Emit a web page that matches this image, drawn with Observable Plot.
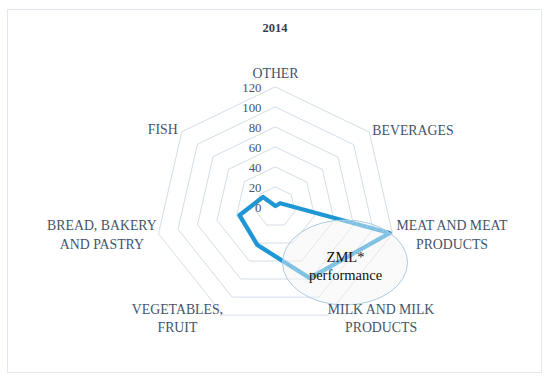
<!DOCTYPE html>
<html>
<head>
<meta charset="utf-8">
<script src="https://cdn.jsdelivr.net/npm/d3@7"></script>
<script src="https://cdn.jsdelivr.net/npm/@observablehq/plot@0.6"></script>
<style>
  html, body { margin: 0; padding: 0; background: #fff; }
  body { width: 550px; height: 381px; position: relative; overflow: hidden; font-family: "Liberation Serif", serif; }
  #frame { position: absolute; left: 7px; top: 9px; width: 535px; height: 364px; box-sizing: border-box; border: 1.5px solid #e2e8ee; }
  #title { position: absolute; left: 0; width: 550px; top: 21px; text-align: center; font: bold 12.5px "Liberation Serif", serif; color: #333f50; }
  #chart { position: absolute; left: 0; top: 40px; }
  #chart svg { overflow: visible; background: transparent; }
</style>
</head>
<body>
<div id="frame"></div>
<div id="title"></div>
<div id="chart"></div>
<script>
// ---- data ----
const titleText = "2014";
const categories = ["OTHER", "BEVERAGES", "MEAT AND MEAT\nPRODUCTS", "MILK AND MILK\nPRODUCTS", "VEGETABLES,\nFRUIT", "BREAD, BAKERY\nAND PASTRY", "FISH"];
const values = [1, 6, 117, 79, 42, 37, 16];
const ringTicks = [0, 20, 40, 60, 80, 100, 120];
const annotationText = ["ZML*", "performance"];

// ---- layout / style ----
const W = 550, H = 341;
const cx = 275, cy = 166.5; // pixel centre of the radar inside the svg
const maxR = 120;
const labelColor = "#44546a";
const labelFont = "Liberation Serif";
const labelLayout = [
  {anchor: "middle", dx: 0, dy: -15},
  {anchor: "start", dx: 3, dy: -3},
  {anchor: "middle", dx: 59.5, dy: 0},
  {anchor: "middle", dx: 53.5, dy: 2.4},
  {anchor: "middle", dx: -46, dy: 2.4},
  {anchor: "middle", dx: -56.6, dy: 0},
  {anchor: "end", dx: -4, dy: -3.5}
];

document.getElementById("title").textContent = titleText;

const n = categories.length;
const ang = i => 2 * Math.PI * i / n;
const px = (v, i) => v * Math.sin(ang(i));
const py = (v, i) => v * Math.cos(ang(i));

const gridData = ringTicks.filter(t => t > 0).flatMap(t => categories.map((c, i) => ({ring: t, x: px(t, i), y: py(t, i)})));
const seriesData = values.map((v, i) => ({cat: categories[i], x: px(v, i), y: py(v, i)}));
const tickData = ringTicks.map(t => ({t, x: 0, y: t}));
const labelData = categories.map((c, i) => ({c, x: px(maxR, i), y: py(maxR, i)}));

// annotation ellipse, placed in data coordinates
const ellipseCenter = {x: 70, y: -56};
const ellipseR = {rx: 62.5, ry: 42.5};

function ellipseMark(index, scales) {
  const g = d3.create("svg:g");
  const defs = g.append("defs");
  const f = defs.append("filter").attr("id", "speck").attr("x", 0).attr("y", 0).attr("width", 1).attr("height", 1);
  f.append("feTurbulence").attr("type", "fractalNoise").attr("baseFrequency", 1.1).attr("numOctaves", 2).attr("seed", 5).attr("result", "noise");
  f.append("feColorMatrix").attr("in", "noise").attr("type", "matrix")
    .attr("values", "0 0 0 0 0.85  0 0 0 0 0.85  0 0 0 0 0.85  0 0 0 -2.2 1.25").attr("result", "dots");
  f.append("feComposite").attr("in", "dots").attr("in2", "SourceGraphic").attr("operator", "in").attr("result", "dotsIn");
  const fm = f.append("feMerge");
  fm.append("feMergeNode").attr("in", "SourceGraphic");
  fm.append("feMergeNode").attr("in", "dotsIn");
  const ex = scales.x(ellipseCenter.x), ey = scales.y(ellipseCenter.y);
  g.append("ellipse").attr("cx", ex).attr("cy", ey).attr("rx", ellipseR.rx).attr("ry", ellipseR.ry)
    .attr("fill", "#f6f6f6").attr("fill-opacity", 0.42).attr("filter", "url(#speck)");
  g.append("ellipse").attr("cx", ex).attr("cy", ey).attr("rx", ellipseR.rx).attr("ry", ellipseR.ry)
    .attr("fill", "none").attr("stroke", "#aecbe0").attr("stroke-width", 1);
  return g.node();
}

const labelMarks = labelData.map((d, i) => Plot.text([d], {
  x: "x", y: "y", text: "c",
  textAnchor: labelLayout[i].anchor, dx: labelLayout[i].dx, dy: labelLayout[i].dy,
  lineAnchor: "middle", lineHeight: 1.31,
  fill: labelColor, fontSize: 13.8, fontFamily: labelFont
}));

const chart = Plot.plot({
  width: W, height: H,
  marginTop: 0, marginRight: 0, marginBottom: 0, marginLeft: 0,
  x: {domain: [-cx, W - cx], range: [0, W], axis: null},
  y: {domain: [-(H - cy), cy], range: [H, 0], axis: null},
  style: {background: "transparent", overflow: "visible"},
  marks: [
    Plot.line(gridData, {x: "x", y: "y", z: "ring", curve: "linear-closed", stroke: "#d4dde7", strokeWidth: 1}),
    Plot.line(seriesData, {x: "x", y: "y", curve: "linear-closed", stroke: "#1f97d4", strokeWidth: 4.3, strokeLinejoin: "round"}),
    ellipseMark,
    Plot.text(tickData, {x: "x", y: "y", text: d => String(d.t), textAnchor: "end", dx: -14, dy: 1,
      fill: labelColor, fontSize: 12.8, fontFamily: labelFont}),
    ...labelMarks,
    Plot.text([annotationText.join("\n")], {x: () => ellipseCenter.x, y: () => ellipseCenter.y - 2, text: d => d,
      textAnchor: "middle", lineAnchor: "middle", lineHeight: 1.23, fill: "#111", fontSize: 14.5, fontFamily: labelFont})
  ]
});
document.getElementById("chart").appendChild(chart);
</script>
</body>
</html>
